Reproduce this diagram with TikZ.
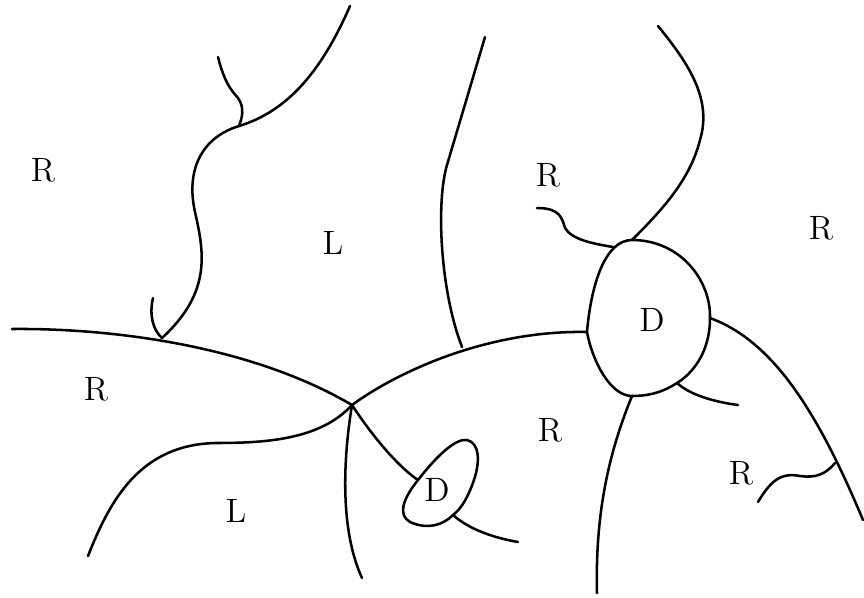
\documentclass[tikz,border=0pt]{standalone}
\usepackage{amsmath}
\usepackage{amssymb}
\usepackage{tikz}

\begin{document}
\begin{tikzpicture}[x=0.0125cm, y=-0.0125cm, line width=0.9pt, line cap=round,
		region/.style={font=\large}]
			\useasboundingbox (0,0) rectangle (864,597);

			% junction points
			\coordinate (X) at (352,405);
			\coordinate (top) at (239,126);
			\coordinate (hook) at (162,338);
			\coordinate (Dleft) at (587,332);
			\coordinate (Dtop) at (632,240);
			\coordinate (Dright) at (710,318);
			\coordinate (Dlow) at (677,383);
			\coordinate (Dbot) at (632,396);
			\coordinate (Dul) at (613,247);
			\coordinate (mid) at (462,347);
			\coordinate (edge) at (835,463);
			\coordinate (dup) at (418,480);
			\coordinate (dlow) at (453,515);

			% left wall
			\draw (12,329) .. controls (110,328) and (250,345) .. (X);
			\draw (350,6) .. controls (320,75) and (285,112) .. (top)
				.. controls (200,138) and (186,172) .. (195,212)
				.. controls (204,252) and (212,292) .. (hook);
			\draw (218,57) .. controls (225,85) and (233,92) .. (238,98)
				.. controls (245,108) and (242,118) .. (top);
			\draw (153,298) .. controls (149,315) and (153,330) .. (hook);

			% branches from the crossing
			\draw (X) .. controls (400,370) and (490,330) .. (Dleft);
			\draw (X) .. controls (320,440) and (265,443) .. (215,443)
				.. controls (140,445) and (110,500) .. (88,556);
			\draw (X) .. controls (343,460) and (340,530) .. (362,578);
			\draw (X) .. controls (375,440) and (400,468) .. (dup);
			\draw (485,37) -- (447,165) .. controls (436,202) and (440,290) .. (mid);

			% small D
			\draw (dup) .. controls (435,458) and (455,438) .. (467,440)
				.. controls (480,443) and (480,462) .. (474,480)
				.. controls (468,497) and (462,508) .. (dlow)
				.. controls (443,525) and (428,530) .. (410,522)
				.. controls (398,515) and (402,500) .. (dup) -- cycle;
			\draw (dlow) .. controls (470,530) and (495,538) .. (518,542);

			% big D
			\draw (Dleft) .. controls (591,285) and (605,240) .. (Dtop)
				.. controls (680,240) and (711,280) .. (Dright)
				.. controls (710,355) and (690,375) .. (Dlow)
				.. controls (660,394) and (645,396) .. (Dbot)
				.. controls (610,396) and (592,360) .. (Dleft) -- cycle;
			\draw (658,26) .. controls (690,65) and (712,100) .. (700,140)
				.. controls (690,180) and (662,210) .. (Dtop);
			\draw (537,208) .. controls (560,208) and (562,218) .. (565,228)
				.. controls (572,240) and (595,244) .. (Dul);
			\draw (Dright) .. controls (770,340) and (815,405) .. (863,520);
			\draw (edge) .. controls (825,475) and (815,478) .. (800,476)
				.. controls (780,472) and (770,482) .. (758,502);
			\draw (Dlow) .. controls (690,395) and (715,402) .. (738,405);
			\draw (Dbot) .. controls (610,450) and (595,510) .. (597,593);

			% labels
			\node[region] (r1) at (43,170) {R};
			\node[region] (l1) at (333,243) {L};
			\node[region] (r2) at (548,175) {R};
			\node[region] (r3) at (821,228) {R};
			\node[region] (d1) at (652,320) {D};
			\node[region] (r4) at (96,389) {R};
			\node[region] (l2) at (236,511) {L};
			\node[region] (r5) at (550,430) {R};
			\node[region] (r6) at (741,473) {R};
			\node[region] (d2) at (437,490) {D};
		\end{tikzpicture}
\end{document}
